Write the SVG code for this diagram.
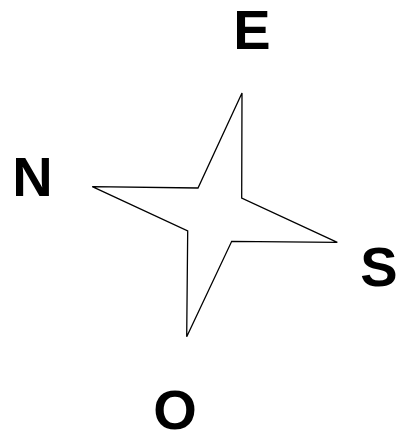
<svg xmlns="http://www.w3.org/2000/svg" width="401" height="438" viewBox="0 0 401 438">
<style>
.lbl{font-family:"Liberation Sans",Arial,sans-serif;font-weight:bold;font-size:56px;fill:#000;text-anchor:middle}
.star{fill:#fff;stroke:#000;stroke-width:1.3;stroke-linejoin:miter}
</style>
<rect width="401" height="438" fill="#fff"/>
<g id="star">
<polygon class="star" points="242,93 241.7,198 337.3,242.3 231.7,241.3 186.7,336.7 187.7,231 92.3,186.7 198,188"/>
</g>
<g id="label-E"><text class="lbl" x="252" y="49">E</text></g>
<g id="label-N"><text class="lbl" x="32.5" y="196">N</text></g>
<g id="label-S"><text class="lbl" x="379" y="286">S</text></g>
<g id="label-O"><text class="lbl" x="175" y="429">O</text></g>
</svg>
